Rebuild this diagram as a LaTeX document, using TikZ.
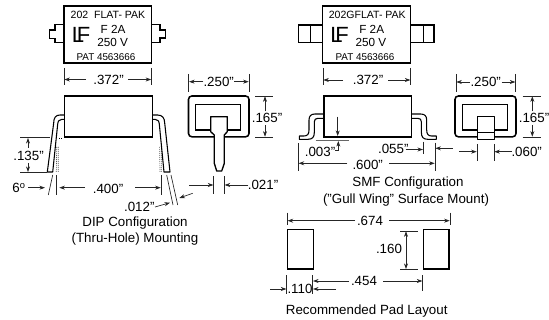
\documentclass[tikz,border=0pt]{standalone}
\usepackage{fontspec}
\setmainfont{Liberation Sans}
\usetikzlibrary{arrows.meta}
\tikzset{
  body/.style={draw=black,line width=1.15pt,line join=miter},
  lead/.style={draw=black,line width=0.8pt,fill=white,line join=round},
  ext/.style={draw=black!85,line width=0.5pt},
  dim/.style={draw=black!85,line width=0.5pt,-{Stealth[length=4.2pt,width=3pt]}},
  dimb/.style={draw=black!85,line width=0.5pt,{Stealth[length=4.2pt,width=3pt]}-{Stealth[length=4.2pt,width=3pt]}},
  lab/.style={inner sep=0pt,font=\fontsize{10}{11}\selectfont},
  pk/.style={inner sep=0pt,font=\fontsize{7.4}{9}\selectfont},
  pkw/.style={inner sep=0pt,font=\fontsize{7.9}{9}\selectfont},
  pkb/.style={inner sep=0pt,font=\fontsize{8.8}{10}\selectfont},
  logo/.style={inner sep=0pt,font=\fontsize{16.5}{17}\selectfont}
}
\begin{document}
\begin{tikzpicture}[x=0.75pt,y=-0.75pt]
\useasboundingbox (0,0) rectangle (549,320);
% ---------- top left package
\draw[body] (64,6) rectangle (151.5,63);
\draw[body] (64,24.5) -- (55,24.5) -- (55,30) -- (49.5,30) -- (49.5,38.3) -- (55,38.3) -- (55,42.3) -- (64,42.3);
\draw[body] (151.5,24.5) -- (160,24.5) -- (160,30) -- (165.7,30) -- (165.7,38) -- (160,38) -- (160,42.3) -- (151.5,42.3);
\node[pkw] (a1) at (108,14.5) {202\ \ FLAT- PAK};
\node[pkb] (a2) at (113,29) {F 2A};
\node[pkb] (a3) at (112.7,42.7) {250 V};
\node[pk] (a4) at (106,56.7) {PAT 4563666};
\node[logo] (a5) at (78,35.3) {L};
\node[logo] (a6) at (83.5,35.3) {F};
% .372
\draw[ext] (64,68) -- (64,85);
\draw[ext] (151.5,68) -- (151.5,85);
\node[lab] (b1) at (108.5,79.7) {.372"};
\draw[dim] (86,79.5) -- (64.3,79.5);
\draw[dim] (128,79.5) -- (151.2,79.5);
% ---------- DIP side view
\draw[lead] (64.7,115) -- (60,115) .. controls (55.5,115) and (53.7,118) .. (53.7,123) -- (47.3,172) -- (52.7,172) -- (57.5,126) .. controls (57.7,121) and (59,119.3) .. (62,119.3) -- (64.7,119.3);
\draw[lead] (152.3,115) -- (157.5,115) .. controls (162.5,115) and (164.5,118) .. (164.7,123) -- (170,172) -- (164,172) -- (159.5,126) .. controls (159.3,121) and (158,119.3) .. (155,119.3) -- (152.3,119.3);
\draw[body] (64.7,96) rectangle (152.3,136.8);
\draw[black,line width=0.5pt,densely dotted] (56.7,147) -- (56.3,172) (58.3,147) -- (58.3,172);
\draw[black,line width=0.5pt,densely dotted] (159.6,147) -- (160,172) (161.6,147) -- (161.6,172);
\draw[black,line width=0.5pt,densely dotted] (59,138) -- (63,138);
% .135
\draw[ext] (20,137.7) -- (50,137.7);
\draw[ext] (20,172.3) -- (47,172.3);
\node[lab] (c1) at (28.5,156) {.135"};
\draw[dim] (28,148) -- (28,138);
\draw[dim] (28,163) -- (28,172);
% 6 deg / .400
\node[lab] (c2) at (19,188) {6\textsuperscript{o}};
\draw[dim] (28,187.7) -- (45,187.7);
\draw[ext] (52.7,175) -- (48.3,195);
\draw[ext] (56.3,175) -- (56.3,195);
\draw[ext] (161,175) -- (161,195);
\node[lab] (c3) at (108,189) {.400"};
\draw[dim] (85,187.7) -- (59.3,187.7);
\draw[dim] (135,187.7) -- (160.7,187.7);
% .012
\draw[ext] (166.7,175) -- (173,205);
\draw[ext] (171,175) -- (177.7,205);
\node[lab] (c4) at (139.3,207.3) {.012"};
\draw[dim] (155,207) -- (170,202.7);
\draw[dim] (192.7,193.3) -- (179.3,198);
\node[lab] (c5) at (135,223) {DIP Configuration};
\node[lab] (c6) at (135,239) {(Thru-Hole) Mounting};
% ---------- DIP end view
\draw[body,rounded corners=2.5pt] (188.5,96) rectangle (249,136.8);
\draw[body] (195.7,104.3) rectangle (240.7,130);
\draw[lead,line width=1pt,fill=white] (210.7,130) -- (210.7,116.7) -- (227.3,116.7) -- (227.3,131.7) -- (224.3,135) -- (224.3,163.3) -- (221.7,171) -- (216.7,171) -- (214.3,163.3) -- (214.3,135) -- (210.7,131.7) -- cycle;
% .250
\draw[ext] (188.7,74) -- (188.7,92);
\draw[ext] (249,74) -- (249,92);
\node[lab] (d1) at (218.7,81.7) {.250"};
\draw[dim] (203.3,81.7) -- (189,81.7);
\draw[dim] (234,81.7) -- (248.7,81.7);
% .165
\draw[ext] (255,96) -- (273,96);
\draw[ext] (255,137) -- (273,137);
\node[lab] (d2) at (267,118) {.165"};
\draw[dim] (265,111.5) -- (265,96.3);
\draw[dim] (265,125) -- (265,136.7);
% .021
\draw[ext] (213.7,176) -- (213.7,194);
\draw[ext] (224.3,176) -- (224.3,194);
\node[lab] (d3) at (263,185) {.021"};
\draw[dim] (189,185) -- (213.4,185);
\draw[dim] (248.3,185) -- (224.6,185);
% ---------- top right package
\draw[body] (322.7,6) rectangle (410.7,63);
\draw[body] (322.7,25) -- (298.3,25) -- (298.3,42.3) -- (322.7,42.3);
\draw[body] (310.7,25) -- (310.7,42.3);
\draw[body] (410.7,25) -- (434,25) -- (434,42.3) -- (410.7,42.3);
\draw[body] (423.3,25) -- (423.3,42.3);
\node[pkw] (e1) at (367.3,14.5) {202GFLAT- PAK};
\node[pkb] (e2) at (371.7,29) {F 2A};
\node[pkb] (e3) at (371,42.7) {250 V};
\node[pk] (e4) at (365,56.7) {PAT 4563666};
\node[logo] (e5) at (336.5,35.3) {L};
\node[logo] (e6) at (342,35.3) {F};
% .372
\draw[ext] (323,68) -- (323,85);
\draw[ext] (410.7,68) -- (410.7,85);
\node[lab] (f1) at (368,80) {.372"};
\draw[dim] (343,80) -- (323.3,80);
\draw[dim] (388,80) -- (410.4,80);
% ---------- SMF side view
\draw[lead] (324,114) -- (315,114) .. controls (311,114) and (309,116) .. (309,120) -- (309,130) .. controls (309,134) and (307.5,136) .. (304,136) -- (299.3,136) -- (299.3,139.3) -- (308,139.3) .. controls (312.5,139.3) and (314.3,137) .. (314.3,132.5) -- (314.3,122) .. controls (314.3,119.5) and (315.5,118.3) .. (318,118.3) -- (324,118.3);
\draw[lead] (411.7,114) -- (420.7,114) .. controls (424.7,114) and (426.7,116) .. (426.7,120) -- (426.7,130) .. controls (426.7,134) and (428.2,136) .. (431.7,136) -- (436.4,136) -- (436.4,139.3) -- (427.7,139.3) .. controls (423.2,139.3) and (421.4,137) .. (421.4,132.5) -- (421.4,122) .. controls (421.4,119.5) and (420.2,118.3) .. (417.7,118.3) -- (411.7,118.3);
\draw[body] (324,96) rectangle (411.7,136.8);
% .003
\draw[draw=black!60,line width=0.7pt] (315.7,140) -- (349,140);
\draw[dim] (337.7,116.7) -- (337.7,136);
\draw[draw=black!85,line width=0.5pt,{Stealth[length=4.2pt,width=3pt]}-] (338.3,141) -- (338.3,150) -- (335,150);
\node[lab] (g1) at (320,152.3) {.003"};
% .055
\node[lab] (g2) at (393.3,149.3) {.055"};
\draw[dim] (405.7,149.5) -- (423,149.5);
\draw[ext] (423.3,141.7) -- (423.3,154);
\draw[ext] (435,142.7) -- (435,171);
\draw[dim] (452.7,148.3) -- (435.3,148.3);
% .600
\draw[ext] (298.3,143.3) -- (298.3,171);
\node[lab] (g3) at (367.7,165) {.600"};
\draw[dim] (347.3,163.3) -- (298.6,163.3);
\draw[dim] (389,163.3) -- (434.7,163.3);
\node[lab] (g4) at (408,183) {SMF Configuration};
\node[lab] (g5) at (406,200) {("Gull Wing" Surface Mount)};
% ---------- SMF end view
\draw[body,rounded corners=2.5pt] (455,96) rectangle (516,136.8);
\draw[body] (462.7,104.3) rectangle (507.3,130);
\draw[lead,line width=1pt] (477.7,116.7) rectangle (494.3,139.3);
\draw[lead,line width=0.8pt] (477.7,132.7) -- (494.3,132.7);
% .250
\draw[ext] (456,74) -- (456,92);
\draw[ext] (515.7,74) -- (515.7,92);
\node[lab] (h1) at (485.7,82) {.250"};
\draw[dim] (470,82) -- (456.3,82);
\draw[dim] (501.7,82) -- (515.4,82);
% .165
\draw[ext] (522.7,96) -- (540.7,96);
\draw[ext] (522.7,137) -- (540.7,137);
\node[lab] (h2) at (534,118) {.165"};
\draw[dim] (532.3,111.5) -- (532.3,96.3);
\draw[dim] (532.3,125) -- (532.3,136.7);
% .060
\draw[ext] (477,144) -- (477,161);
\draw[ext] (494,144) -- (494,161);
\node[lab] (h3) at (526.7,151.7) {.060"};
\draw[dim] (459.3,151.7) -- (476.7,151.7);
\draw[dim] (511.7,151.7) -- (494.3,151.7);
% ---------- pads
\draw[body] (287.7,229.3) rectangle (313.7,269);
\draw[body] (423.3,229.3) rectangle (449,269);
% .674
\draw[ext] (287.3,212.7) -- (287.3,225);
\draw[ext] (450,212.7) -- (450,225);
\node[lab] (i1) at (370,220.7) {.674};
\draw[dim] (355,220.7) -- (287.6,220.7);
\draw[dim] (389.3,220.7) -- (449.7,220.7);
% .160
\draw[ext] (400,231) -- (418.3,231);
\draw[ext] (400,269.3) -- (418.3,269.3);
\node[lab] (i2) at (389,249) {.160};
\draw[dimb] (406,231.3) -- (406,269);
% .454
\draw[ext] (312.7,275) -- (312.7,294);
\draw[ext] (422.7,275) -- (422.7,291);
\node[lab] (i3) at (364,281) {.454};
\draw[dim] (349,281) -- (313,281);
\draw[dim] (383.3,281) -- (422.4,281);
% .110
\draw[ext] (286.7,275) -- (286.7,294);
\node[lab] (i4) at (300,289.3) {.110};
\draw[dim] (270,289) -- (286.4,289);
\draw[dim] (336,289) -- (313,289);
\node[lab] (i5) at (366.7,310.7) {Recommended Pad Layout};
\end{tikzpicture}
\end{document}
